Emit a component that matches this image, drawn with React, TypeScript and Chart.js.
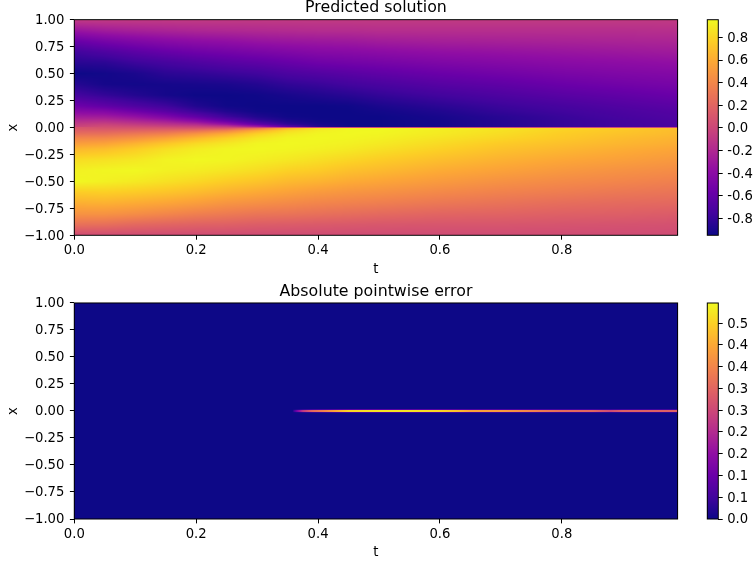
import React, { useEffect, useRef } from "react";
import { Chart, registerables } from "chart.js";

Chart.register(...registerables);

const FONT = "'DejaVu Sans'";

// x positions of the table rows, top to bottom
const xRows = [1, 0.9, 0.8, 0.7, 0.6, 0.5, 0.4, 0.3, 0.2, 0.15, 0.1, 0.06, 0.03, 0.006, 0, -0.006, -0.03, -0.06, -0.1, -0.15, -0.2, -0.3, -0.4, -0.5, -0.6, -0.7, -0.8, -0.9, -1];
const tColumns = [0, 0.05, 0.1, 0.15, 0.2, 0.25, 0.3, 0.35, 0.4, 0.45, 0.5, 0.6, 0.7, 0.8, 0.9, 0.99];

const u000 = [-0.08, -0.33, -0.58, -0.76, -0.85, -0.95, -0.86, -0.74, -0.55, -0.42, -0.28, -0.16, -0.07, -0.01, 0.1, 0.11, 0.17, 0.26, 0.4, 0.53, 0.66, 0.83, 0.92, 0.95, 0.76, 0.62, 0.47, 0.27, 0.03];
const u005 = [-0.08, -0.28, -0.51, -0.7, -0.84, -0.93, -0.92, -0.81, -0.62, -0.45, -0.29, -0.15, -0.03, 0.05, 0.07, 0.09, 0.17, 0.27, 0.41, 0.56, 0.69, 0.85, 0.94, 0.92, 0.77, 0.63, 0.47, 0.26, 0.03];
const u010 = [-0.08, -0.25, -0.46, -0.64, -0.78, -0.9, -0.93, -0.87, -0.7, -0.55, -0.36, -0.21, -0.08, 0.03, 0.06, 0.09, 0.19, 0.32, 0.47, 0.64, 0.76, 0.88, 0.95, 0.89, 0.75, 0.6, 0.44, 0.22, 0.03];
const u015 = [-0.08, -0.23, -0.42, -0.59, -0.74, -0.84, -0.92, -0.92, -0.77, -0.65, -0.47, -0.28, -0.13, 0, 0.05, 0.08, 0.22, 0.37, 0.56, 0.73, 0.84, 0.93, 0.92, 0.85, 0.72, 0.57, 0.4, 0.2, 0.03];
const u020 = [-0.08, -0.21, -0.39, -0.55, -0.7, -0.82, -0.91, -0.95, -0.88, -0.78, -0.61, -0.4, -0.19, -0.01, 0.03, 0.08, 0.27, 0.48, 0.67, 0.82, 0.9, 0.95, 0.9, 0.81, 0.68, 0.53, 0.36, 0.18, 0.03];
const u025 = [-0.08, -0.2, -0.37, -0.52, -0.66, -0.79, -0.9, -0.95, -0.94, -0.88, -0.77, -0.59, -0.35, -0.06, 0.02, 0.1, 0.38, 0.61, 0.78, 0.88, 0.94, 0.94, 0.87, 0.76, 0.63, 0.48, 0.33, 0.17, 0.03];
const u030 = [-0.08, -0.19, -0.34, -0.49, -0.63, -0.76, -0.87, -0.94, -0.95, -0.94, -0.88, -0.78, -0.61, -0.25, 0, 0.26, 0.61, 0.78, 0.88, 0.94, 0.95, 0.91, 0.83, 0.72, 0.59, 0.45, 0.3, 0.15, 0.03];
const u035 = [-0.08, -0.18, -0.32, -0.46, -0.59, -0.71, -0.82, -0.91, -0.95, -0.95, -0.94, -0.89, -0.82, -0.62, 0, 0.62, 0.82, 0.89, 0.94, 0.95, 0.94, 0.88, 0.78, 0.67, 0.55, 0.42, 0.29, 0.14, 0.03];
const u040 = [-0.08, -0.17, -0.31, -0.43, -0.55, -0.68, -0.79, -0.88, -0.95, -0.95, -0.95, -0.94, -0.91, -0.87, 0, 0.87, 0.91, 0.94, 0.95, 0.94, 0.92, 0.84, 0.75, 0.64, 0.51, 0.39, 0.27, 0.13, 0.03];
const u045 = [-0.08, -0.17, -0.3, -0.42, -0.53, -0.65, -0.75, -0.85, -0.94, -0.95, -0.95, -0.95, -0.95, -0.94, 0, 0.94, 0.95, 0.95, 0.94, 0.92, 0.89, 0.8, 0.7, 0.6, 0.48, 0.37, 0.25, 0.12, 0.03];
const u050 = [-0.08, -0.16, -0.28, -0.4, -0.51, -0.62, -0.72, -0.81, -0.9, -0.93, -0.95, -0.95, -0.95, -0.95, 0, 0.95, 0.95, 0.94, 0.92, 0.89, 0.85, 0.76, 0.67, 0.57, 0.46, 0.35, 0.23, 0.11, 0.03];
const u060 = [-0.08, -0.16, -0.26, -0.37, -0.47, -0.57, -0.66, -0.75, -0.84, -0.88, -0.91, -0.92, -0.92, -0.92, 0, 0.92, 0.9, 0.89, 0.86, 0.82, 0.78, 0.69, 0.6, 0.51, 0.41, 0.31, 0.2, 0.1, 0.03];
const u070 = [-0.08, -0.16, -0.25, -0.35, -0.44, -0.53, -0.62, -0.7, -0.78, -0.81, -0.85, -0.86, -0.86, -0.86, 0, 0.86, 0.85, 0.83, 0.8, 0.75, 0.71, 0.63, 0.55, 0.46, 0.37, 0.28, 0.19, 0.1, 0.03];
const u080 = [-0.08, -0.16, -0.24, -0.33, -0.41, -0.49, -0.57, -0.65, -0.73, -0.76, -0.79, -0.8, -0.8, -0.8, 0, 0.8, 0.78, 0.76, 0.74, 0.7, 0.66, 0.58, 0.5, 0.42, 0.34, 0.25, 0.17, 0.09, 0.03];
const u090 = [-0.08, -0.16, -0.23, -0.31, -0.39, -0.46, -0.53, -0.61, -0.68, -0.71, -0.73, -0.75, -0.75, -0.75, 0, 0.75, 0.73, 0.71, 0.68, 0.65, 0.61, 0.54, 0.46, 0.39, 0.31, 0.23, 0.16, 0.08, 0.03];
const u099 = [-0.08, -0.15, -0.22, -0.29, -0.37, -0.44, -0.5, -0.57, -0.64, -0.67, -0.69, -0.7, -0.71, -0.71, 0, 0.7, 0.68, 0.67, 0.64, 0.61, 0.57, 0.5, 0.43, 0.36, 0.29, 0.22, 0.14, 0.07, 0.03];
const solutionColumns = [u000, u005, u010, u015, u020, u025, u030, u035, u040, u045, u050, u060, u070, u080, u090, u099];

// absolute error: only the thin band at x = 0 is above zero
const errorRows = [1, 0.015, 0.007, -0.007, -0.015, -1];
const errorT = [0, 0.358, 0.365, 0.375, 0.39, 0.41, 0.43, 0.45, 0.5, 0.55, 0.6, 0.63, 0.65, 0.7, 0.75, 0.8, 0.85, 0.88, 0.9, 0.95, 0.99];
const errorPeak = [0, 0, 0.12, 0.24, 0.33, 0.38, 0.44, 0.5, 0.52, 0.52, 0.5, 0.47, 0.43, 0.42, 0.38, 0.34, 0.33, 0.28, 0.32, 0.32, 0.32];

const solutionRange = [-0.95, 0.957];
const errorRange = [0, 0.546];
const solutionBarTicks = [-0.8, -0.6, -0.4, -0.2, 0, 0.2, 0.4, 0.6, 0.8];
const errorBarTicks = [0, 0.055, 0.11, 0.165, 0.22, 0.275, 0.33, 0.385, 0.44, 0.495];

// matplotlib "plasma" stops
const plasma = [[13, 8, 135], [65, 4, 157], [106, 0, 168], [143, 13, 164], [177, 42, 144], [204, 71, 120], [225, 100, 98], [242, 132, 75], [252, 166, 54], [252, 206, 37], [240, 249, 33]];

function colour(n: number) {
  const p = Math.min(Math.max(n, 0), 1) * (plasma.length - 1);
  const i = Math.min(Math.floor(p), plasma.length - 2);
  const f = p - i;
  return [0, 1, 2].map((k) => plasma[i][k] + (plasma[i + 1][k] - plasma[i][k]) * f);
}

function bracket(list: number[], v: number) {
  // list is monotonic; returns lower index and fraction
  const dir = list[1] > list[0] ? 1 : -1;
  let i = 0;
  while (i < list.length - 2 && (list[i + 1] - v) * dir < 0) i++;
  const f = (v - list[i]) / (list[i + 1] - list[i]);
  return [i, Math.min(Math.max(f, 0), 1)];
}

type Grid = { ts: number[]; xs: number[]; cols: number[][]; range: number[] };

const toPoints = (g: Grid) =>
  g.ts.flatMap((t, c) => g.xs.map((x, r) => ({ x: t, y: x, v: g.cols[c][r] })));

const meshPlugin = (g: Grid) => ({
  id: "mesh",
  beforeDatasetsDraw(chart: any) {
    const { ctx, chartArea: a, scales } = chart;
    const l = Math.round(a.left), t = Math.round(a.top);
    const w = Math.round(a.right) - l, h = Math.round(a.bottom) - t;
    const img = ctx.createImageData(w, h);
    for (let py = 0; py < h; py++) {
      const [r, fr] = bracket(g.xs, scales.y.getValueForPixel(t + py + 0.5));
      for (let px = 0; px < w; px++) {
        const [c, fc] = bracket(g.ts, scales.x.getValueForPixel(l + px + 0.5));
        const a0 = g.cols[c][r] + (g.cols[c][r + 1] - g.cols[c][r]) * fr;
        const a1 = g.cols[c + 1][r] + (g.cols[c + 1][r + 1] - g.cols[c + 1][r]) * fr;
        const v = a0 + (a1 - a0) * fc;
        const col = colour((v - g.range[0]) / (g.range[1] - g.range[0]));
        const o = (py * w + px) * 4;
        img.data[o] = col[0];
        img.data[o + 1] = col[1];
        img.data[o + 2] = col[2];
        img.data[o + 3] = 255;
      }
    }
    ctx.putImageData(img, l, t);
  },
  afterDatasetsDraw(chart: any) {
    const { ctx, chartArea: a } = chart;
    ctx.save();
    ctx.strokeStyle = "#000";
    ctx.lineWidth = 1;
    ctx.strokeRect(a.left, a.top, a.right - a.left, a.bottom - a.top);
    ctx.restore();
  },
});

const AXIS_FONT = { family: FONT, size: 13.2 };
const TICK = 4.4;

function panelConfig(title: string, g: Grid, titleGap: number, xHeight: number) {
  return {
    type: "scatter",
    data: { datasets: [{ data: toPoints(g), pointRadius: 0, showLine: false }] },
    plugins: [meshPlugin(g)],
    options: {
      responsive: false,
      animation: false,
      devicePixelRatio: 1,
      layout: { padding: { left: 0, right: 22.4, top: 0, bottom: 0 } },
      plugins: {
        legend: { display: false },
        tooltip: { enabled: false },
        title: {
          display: true,
          text: title,
          color: "#000",
          fullSize: false,
          font: { family: FONT, size: 15.8, weight: "normal" },
          padding: { top: -1.3, bottom: titleGap },
        },
      },
      scales: {
        x: {
          type: "linear",
          min: 0,
          max: 0.99,
          afterFit: (s: any) => { s.height = xHeight; },
          grid: { drawOnChartArea: false, tickLength: TICK, tickColor: "#000", tickWidth: 1 },
          border: { display: false },
          ticks: {
            stepSize: 0.2,
            includeBounds: false,
            color: "#000",
            font: AXIS_FONT,
            padding: 3,
            maxRotation: 0,
            callback: (v: number) => v.toFixed(1),
          },
          title: { display: true, text: "t", color: "#000", font: AXIS_FONT, padding: { top: 0, bottom: 5 } },
        },
        y: {
          type: "linear",
          min: -1,
          max: 1,
          afterFit: (s: any) => { s.width = 74.3; },
          grid: { drawOnChartArea: false, tickLength: TICK, tickColor: "#000", tickWidth: 1 },
          border: { display: false },
          ticks: {
            stepSize: 0.25,
            color: "#000",
            font: AXIS_FONT,
            padding: 5.5,
            labelOffset: 1,
            autoSkip: false,
            callback: (v: number) => v.toFixed(2).replace("-", "\u2212"),
          },
          title: { display: true, text: "x", color: "#000", font: AXIS_FONT, padding: { top: 5.5, bottom: 0 } },
        },
      },
    },
  };
}

function barConfig(range: number[], ticks: number[], top: number, bottom: number) {
  const g: Grid = { ts: [0, 1], xs: [range[1], range[0]], cols: [[range[1], range[0]], [range[1], range[0]]], range };
  return {
    type: "scatter",
    data: { datasets: [{ data: toPoints(g), pointRadius: 0, showLine: false }] },
    plugins: [meshPlugin(g)],
    options: {
      responsive: false,
      animation: false,
      devicePixelRatio: 1,
      layout: { padding: { left: 7.3, right: 0, top, bottom } },
      plugins: { legend: { display: false }, tooltip: { enabled: false }, title: { display: false } },
      scales: {
        x: { type: "linear", min: 0, max: 1, display: false },
        y: {
          type: "linear",
          position: "right",
          min: range[0],
          max: range[1],
          afterFit: (s: any) => { s.width = 35.7; },
          afterBuildTicks: (s: any) => { s.ticks = ticks.map((value) => ({ value })); },
          grid: { drawOnChartArea: false, tickLength: TICK, tickColor: "#000", tickWidth: 1 },
          border: { display: false },
          ticks: {
            color: "#000",
            font: AXIS_FONT,
            padding: 4.5,
            labelOffset: 1,
            autoSkip: false,
            callback: (v: number) => v.toFixed(1),
          },
        },
      },
    },
  };
}

const solutionGrid: Grid = { ts: tColumns, xs: xRows, cols: solutionColumns, range: solutionRange };
const errorGrid: Grid = {
  ts: errorT,
  xs: errorRows,
  cols: errorPeak.map((p) => [0, 0, p, p, 0, 0]),
  range: errorRange,
};

export default function App() {
  const a = useRef<HTMLCanvasElement>(null);
  const b = useRef<HTMLCanvasElement>(null);
  const c = useRef<HTMLCanvasElement>(null);
  const d = useRef<HTMLCanvasElement>(null);
  useEffect(() => {
    const charts = [
      new Chart(a.current as any, panelConfig("Predicted solution", solutionGrid, 2, 46.7) as any),
      new Chart(b.current as any, barConfig(solutionRange, solutionBarTicks, 19.7, 46.7) as any),
      new Chart(c.current as any, panelConfig("Absolute pointwise error", errorGrid, 1.3, 46) as any),
      new Chart(d.current as any, barConfig(errorRange, errorBarTicks, 19, 46) as any),
    ];
    return () => charts.forEach((x) => x.destroy());
  }, []);
  const at = (left: number, top: number): React.CSSProperties => ({ position: "absolute", left, top, display: "block" });
  return (
    <div style={{ position: "fixed", left: 0, top: 0, width: 754, height: 565, background: "#fff", overflow: "hidden" }}>
      <canvas ref={a} width={700} height={282} style={at(0, 0)} />
      <canvas ref={b} width={54} height={282} style={at(700, 0)} />
      <canvas ref={c} width={700} height={281} style={at(0, 284)} />
      <canvas ref={d} width={54} height={281} style={at(700, 284)} />
    </div>
  );
}
